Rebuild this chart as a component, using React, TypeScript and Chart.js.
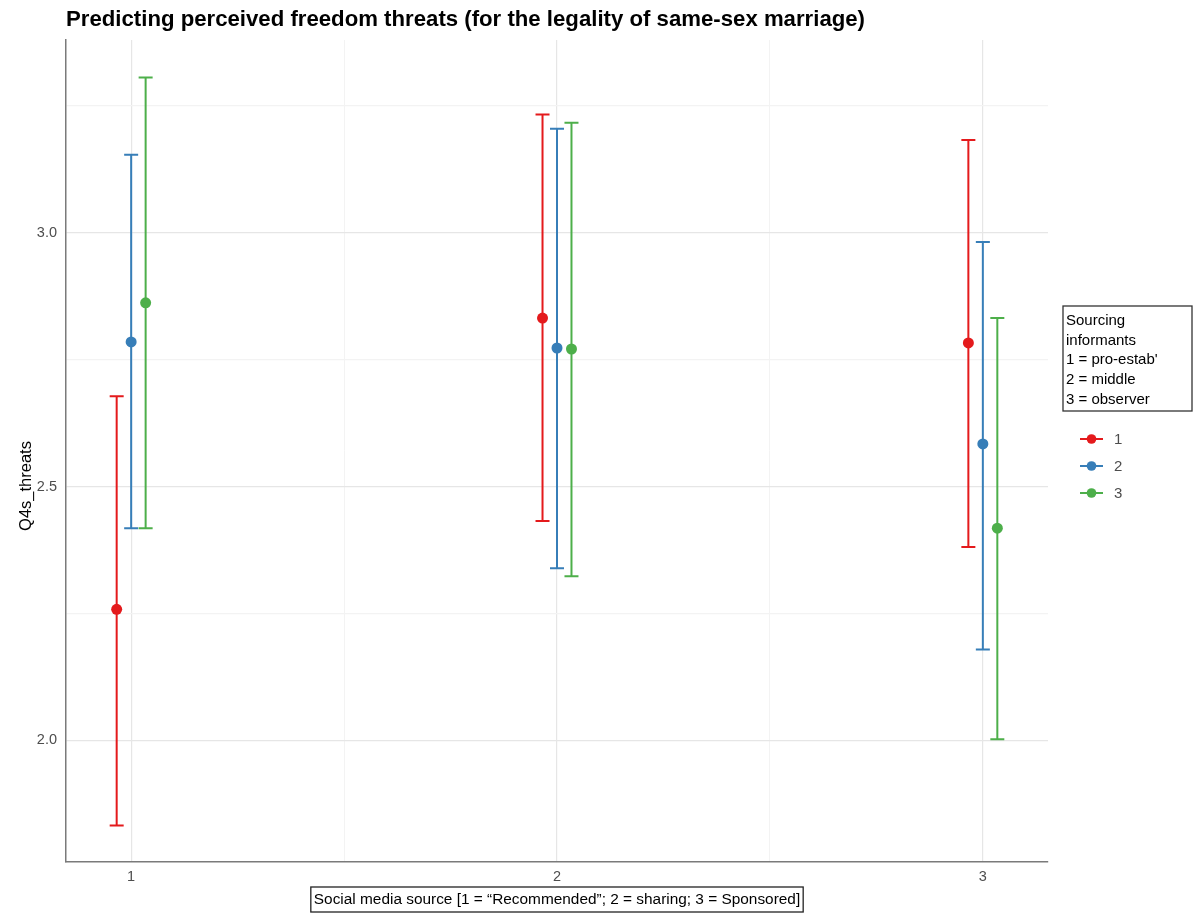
import React, { useEffect, useRef } from "react";
import { Chart, registerables } from "chart.js";

Chart.register(...registerables);

// Social media source (x) and sourcing-informant groups (series)
const sources = [1, 2, 3];
const groupLabels = ["1", "2", "3"];
const groupColors = ["#E41A1C", "#377EB8", "#4DAF4A"];
const dodgeOffsets = [-0.034, 0, 0.034];

// Estimated means with lower / upper confidence limits, per group, at sources 1..3
const meanG1 = [2.258, 2.832, 2.783];
const lowG1 = [1.832, 2.432, 2.381];
const highG1 = [2.678, 3.233, 3.183];

const meanG2 = [2.785, 2.773, 2.584];
const lowG2 = [2.418, 2.339, 2.179];
const highG2 = [3.154, 3.205, 2.982];

const meanG3 = [2.862, 2.771, 2.418];
const lowG3 = [2.418, 2.323, 2.002];
const highG3 = [3.306, 3.217, 2.832];

const xTickValues = [1, 1.5, 2, 2.5, 3];
const yTickValues = [2, 2.25, 2.5, 2.75, 3, 3.25];

const titleText =
  "Predicting perceived freedom threats (for the legality of same-sex marriage)";
const xTitleText =
  "Social media source [1 = \u201CRecommended\u201D; 2 = sharing; 3 = Sponsored]";
const yTitleText = "Q4s_threats";
const legendTitleLines = [
  "Sourcing",
  "informants",
  "1 = pro-estab'",
  "2 = middle",
  "3 = observer",
];

const FONT = "'Liberation Sans', Arial, Helvetica, sans-serif";

const means = [meanG1, meanG2, meanG3];
const lows = [lowG1, lowG2, lowG3];
const highs = [highG1, highG2, highG3];

const errorBarPlugin = {
  id: "errorBars",
  beforeDatasetsDraw(chart: any) {
    const { ctx, scales } = chart;
    const xs = scales.x;
    const ys = scales.y;
    ctx.save();
    ctx.lineWidth = 2;
    groupLabels.forEach((_, g) => {
      ctx.strokeStyle = groupColors[g];
      sources.forEach((s, i) => {
        const px = xs.getPixelForValue(s + dodgeOffsets[g]);
        const pLow = ys.getPixelForValue(lows[g][i]);
        const pHigh = ys.getPixelForValue(highs[g][i]);
        const half = 7;
        ctx.beginPath();
        ctx.moveTo(px, pLow);
        ctx.lineTo(px, pHigh);
        ctx.moveTo(px - half, pLow);
        ctx.lineTo(px + half, pLow);
        ctx.moveTo(px - half, pHigh);
        ctx.lineTo(px + half, pHigh);
        ctx.stroke();
      });
    });
    ctx.restore();
  },
};

const annotationsPlugin = {
  id: "annotations",
  afterDraw(chart: any) {
    const { ctx, chartArea } = chart;
    ctx.save();

    // Title
    ctx.fillStyle = "#000";
    ctx.font = `bold 22.2px ${FONT}`;
    ctx.textAlign = "left";
    ctx.textBaseline = "alphabetic";
    ctx.fillText(titleText, chartArea.left, 26);

    // Y axis title
    ctx.save();
    ctx.translate(26, 486);
    ctx.rotate(-Math.PI / 2);
    ctx.font = `16.5px ${FONT}`;
    ctx.textAlign = "center";
    ctx.textBaseline = "middle";
    ctx.fillText(yTitleText, 0, 0);
    ctx.restore();

    // X axis title in a framed box
    const cx = (chartArea.left + chartArea.right) / 2;
    ctx.font = `15.4px ${FONT}`;
    const tw = ctx.measureText(xTitleText).width;
    const bx = cx - tw / 2 - 3;
    const bw = tw + 6;
    ctx.strokeStyle = "#222";
    ctx.lineWidth = 1.3;
    ctx.strokeRect(bx, 887, bw, 25);
    ctx.textAlign = "center";
    ctx.textBaseline = "middle";
    ctx.fillText(xTitleText, cx, 900);

    // Legend title box
    ctx.strokeStyle = "#333";
    ctx.lineWidth = 1.3;
    ctx.strokeRect(1063, 306, 129, 105);
    ctx.font = `15px ${FONT}`;
    ctx.textAlign = "left";
    ctx.textBaseline = "middle";
    legendTitleLines.forEach((line, i) => {
      ctx.fillText(line, 1066, 321 + i * 19.6);
    });

    // Legend keys
    groupLabels.forEach((label, g) => {
      const y = 439 + g * 27;
      ctx.strokeStyle = groupColors[g];
      ctx.lineWidth = 2;
      ctx.beginPath();
      ctx.moveTo(1080, y);
      ctx.lineTo(1103, y);
      ctx.stroke();
      ctx.fillStyle = groupColors[g];
      ctx.beginPath();
      ctx.arc(1091.5, y, 4.8, 0, Math.PI * 2);
      ctx.fill();
      ctx.fillStyle = "#4d4d4d";
      ctx.font = `15px ${FONT}`;
      ctx.fillText(label, 1114, y + 1);
    });

    ctx.restore();
  },
};

export default function App() {
  const canvasRef = useRef<HTMLCanvasElement | null>(null);

  useEffect(() => {
    if (!canvasRef.current) return;
    const datasets = groupLabels.map((label, g) => ({
      label,
      data: sources.map((s, i) => ({ x: s + dodgeOffsets[g], y: means[g][i] })),
      backgroundColor: groupColors[g],
      borderColor: groupColors[g],
      borderWidth: 0,
      pointRadius: 5.5,
      pointHoverRadius: 5.5,
      showLine: false,
    }));

    const chart = new Chart(canvasRef.current, {
      type: "scatter",
      data: { datasets },
      plugins: [errorBarPlugin, annotationsPlugin],
      options: {
        animation: false,
        responsive: false,
        devicePixelRatio: 1,
        layout: { padding: { top: 40, right: 147, bottom: 0, left: 0 } },
        plugins: {
          legend: { display: false },
          tooltip: { enabled: false },
          title: { display: false },
        },
        scales: {
          x: {
            type: "linear",
            min: 0.847,
            max: 3.153,
            afterBuildTicks: (scale: any) => {
              scale.ticks = xTickValues.map((v) => ({ value: v }));
            },
            afterFit: (scale: any) => {
              scale.height = 51;
            },
            ticks: {
              autoSkip: false,
              maxRotation: 0,
              padding: 6,
              color: "#4d4d4d",
              font: { family: FONT, size: 14.5 },
              callback: (v: any) => (Number.isInteger(v) ? String(v) : ""),
            },
            grid: {
              drawTicks: false,
              color: (c: any) =>
                Number.isInteger(c.tick?.value) ? "#e6e6e6" : "#f3f3f3",
              lineWidth: (c: any) => (Number.isInteger(c.tick?.value) ? 1.2 : 1),
            },
            border: { display: true, color: "#7a7a7a", width: 1.5 },
          },
          y: {
            type: "linear",
            min: 1.76,
            max: 3.38,
            afterBuildTicks: (scale: any) => {
              scale.ticks = yTickValues.map((v) => ({ value: v }));
            },
            afterFit: (scale: any) => {
              scale.width = 66;
            },
            ticks: {
              autoSkip: false,
              padding: 9,
              color: "#4d4d4d",
              font: { family: FONT, size: 14.5 },
              callback: (v: any) =>
                Math.abs(v * 2 - Math.round(v * 2)) < 1e-9 ? Number(v).toFixed(1) : "",
            },
            grid: {
              drawTicks: false,
              color: (c: any) => {
                const v = c.tick?.value ?? 0;
                return Math.abs(v * 2 - Math.round(v * 2)) < 1e-9 ? "#e6e6e6" : "#f3f3f3";
              },
              lineWidth: 1.2,
            },
            border: { display: true, color: "#7a7a7a", width: 1.5 },
          },
        },
      } as any,
    });
    return () => chart.destroy();
  }, []);

  return (
    <div
      style={{
        position: "fixed",
        left: 0,
        top: 0,
        width: 1195,
        height: 913,
        background: "#fff",
      }}
    >
      <canvas ref={canvasRef} width={1195} height={913} />
    </div>
  );
}
